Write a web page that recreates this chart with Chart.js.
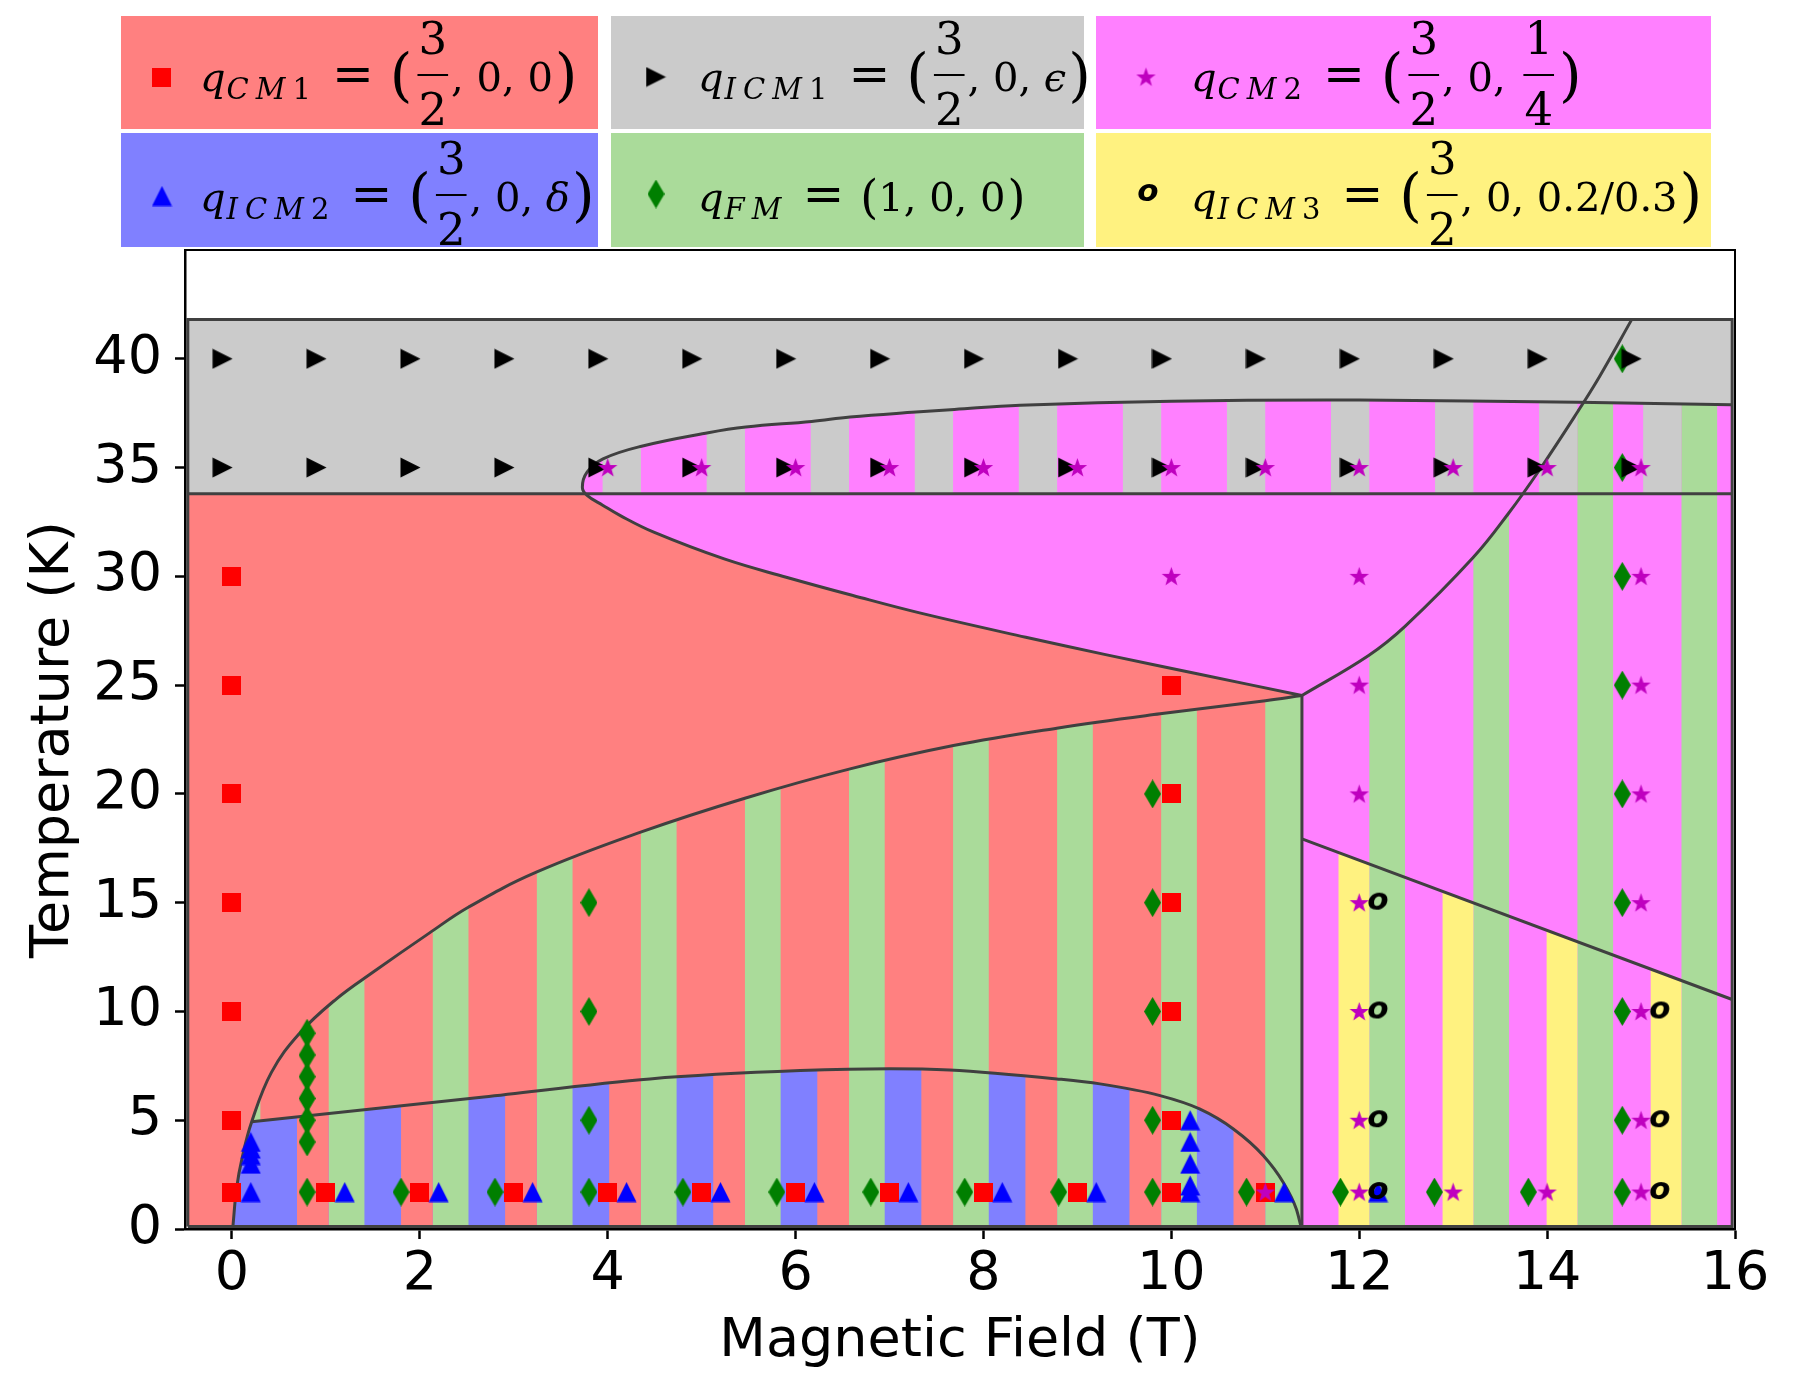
<!DOCTYPE html>
<html>
<head>
<meta charset="utf-8">
<script src="https://cdn.jsdelivr.net/npm/chart.js@4.4.1/dist/chart.umd.min.js"></script>
<style>
  html, body { margin: 0; padding: 0; background: #fff; }
  canvas { display: block; }
</style>
</head>
<body>
<canvas id="phase" width="1800" height="1400"></canvas>
<script>
// ---- axis ticks ----
const xTicks = [0, 2, 4, 6, 8, 10, 12, 14, 16];
const yTicks = [0, 5, 10, 15, 20, 25, 30, 35, 40];

// ---- phase boundaries: field (T) / temperature (K) ----
const noseField = [11.39, 10.3, 9.3, 8.45, 7.32, 6.61, 5.90, 5.24, 4.49, 4.13, 3.95, 3.78, 3.73,
                   3.78, 3.95, 4.36, 5.07, 5.47, 6.17, 6.58, 7.28, 7.69, 8.39, 10.0, 12.0, 14.33, 15.96];
const noseTemp  = [24.52, 25.5, 26.4, 27.2, 28.32, 29.12, 29.96, 30.8, 32.03, 32.8, 33.26, 33.72, 34.1,
                   34.79, 35.4, 35.98, 36.6, 36.86, 37.12, 37.32, 37.55, 37.67, 37.86, 38.05, 38.1, 38.0, 37.89];
const sqrtField = [0.01, 0.05, 0.11, 0.21, 0.42, 0.72, 1.11, 1.5, 2.1, 2.52, 3.24, 4.35, 5.46,
                   6.58, 7.68, 8.78, 9.88, 11.0, 11.39];
const sqrtTemp  = [0.12, 1.9, 3.3, 4.93, 7.2, 9.0, 10.57, 11.8, 13.6, 14.8, 16.4, 18.24, 19.8,
                   21.15, 22.22, 23.02, 23.68, 24.28, 24.52];
const domeField = [0.21, 2.68, 4.45, 6.05, 7.0, 7.64, 8.78, 9.24, 9.88, 10.30, 10.66, 10.98, 11.19, 11.33, 11.38];
const domeTemp  = [4.93, 6.07, 6.90, 7.28, 7.37, 7.31, 6.90, 6.67, 6.13, 5.52, 4.60, 3.37, 2.15, 0.92, 0.12];
const diagField = [11.39, 12.10, 12.49, 13.21, 13.59, 13.92, 14.33, 14.56, 14.90];
const diagTemp  = [24.52, 26.36, 27.71, 30.85, 32.9, 34.9, 37.6, 39.2, 41.8];
const slantField = [11.39, 15.97];
const slantTemp  = [17.93, 10.55];
const splitField = [11.39, 11.39];
const splitTemp  = [0.12, 24.52];
const bandLowField = [-0.47, 15.97];
const bandLowTemp  = [33.8, 33.8];
const frameField = [-0.47, -0.47, 15.97, 15.97, -0.47];
const frameTemp  = [0.12, 41.8, 41.8, 0.12, 0.12];

// ---- measured points ----
const cm1Field = [0, 0, 0, 0, 0, 0, 0, 1, 2, 3, 4, 5, 6, 7, 8, 9, 10, 10, 10, 10, 10, 10, 11];
const cm1Temp  = [1.7, 5, 10, 15, 20, 25, 30, 1.7, 1.7, 1.7, 1.7, 1.7, 1.7, 1.7, 1.7, 1.7, 1.7, 5, 10, 15, 20, 25, 1.7];
const icm1Field = [-0.1, 0.9, 1.9, 2.9, 3.9, 4.9, 5.9, 6.9, 7.9, 8.9, 9.9, 10.9, 11.9, 12.9, 13.9, 14.9,
                   -0.1, 0.9, 1.9, 2.9, 3.9, 4.9, 5.9, 6.9, 7.9, 8.9, 9.9, 10.9, 11.9, 12.9, 13.9, 14.9];
const icm1Temp  = [40, 40, 40, 40, 40, 40, 40, 40, 40, 40, 40, 40, 40, 40, 40, 40,
                   35, 35, 35, 35, 35, 35, 35, 35, 35, 35, 35, 35, 35, 35, 35, 35];
const cm2Field = [4, 5, 6, 7, 8, 9, 10, 11, 12, 13, 14, 15, 10, 12, 15, 12, 15, 12, 15, 12, 15, 12, 15, 12, 15,
                  11, 12, 13, 14, 15];
const cm2Temp  = [35, 35, 35, 35, 35, 35, 35, 35, 35, 35, 35, 35, 30, 30, 30, 25, 25, 20, 20, 15, 15, 10, 10, 5, 5,
                  1.7, 1.7, 1.7, 1.7, 1.7];
const icm2Field = [0.2, 1.2, 2.2, 3.2, 4.2, 5.2, 6.2, 7.2, 8.2, 9.2, 10.2, 11.2, 12.2,
                   0.2, 0.2, 0.2, 0.2, 10.2, 10.2, 10.2, 10.2];
const icm2Temp  = [1.7, 1.7, 1.7, 1.7, 1.7, 1.7, 1.7, 1.7, 1.7, 1.7, 1.7, 1.7, 1.7,
                   3.0, 3.4, 3.7, 4.0, 2, 3, 4, 5];
const fmField = [0.8, 0.8, 0.8, 0.8, 0.8, 0.8, 0.8, 1.8, 2.8, 3.8, 4.8, 5.8, 6.8, 7.8, 8.8, 9.8, 10.8, 11.8, 12.8, 13.8, 14.8,
                 3.8, 3.8, 3.8, 9.8, 9.8, 9.8, 9.8, 14.8, 14.8, 14.8, 14.8, 14.8, 14.8, 14.8, 14.8];
const fmTemp  = [1.7, 4, 5, 6, 7, 8, 9, 1.7, 1.7, 1.7, 1.7, 1.7, 1.7, 1.7, 1.7, 1.7, 1.7, 1.7, 1.7, 1.7, 1.7,
                 5, 10, 15, 5, 10, 15, 20, 5, 10, 15, 20, 25, 30, 35, 40];
const icm3Field = [12.2, 12.2, 12.2, 12.2, 15.2, 15.2, 15.2];
const icm3Temp  = [1.7, 5, 10, 15, 1.7, 5, 10];

// ---- colours ----
const C = {
  red: '#ff8080', gray: '#cbcbcb', magenta: '#ff80ff',
  blue: '#8080ff', green: '#aadb9a', yellow: '#fff280', line: '#404040'
};
// coexistence stripes: a pattern repeating along the field axis
const STRIPE_ORIGIN = 1.03;
const STRIPE_PERIOD = 1.1077;

function markerCanvas(w, h, draw) {
  const c = document.createElement('canvas');
  c.width = w; c.height = h;
  draw(c.getContext('2d'), w, h);
  return c;
}
const squareMark = markerCanvas(19, 19, (g, w, h) => { g.fillStyle = '#ff0000'; g.fillRect(0, 0, w, h); });
const triUpMark = markerCanvas(21, 21, (g, w, h) => {
  g.fillStyle = '#0000ff'; g.beginPath();
  g.moveTo(w / 2, 0.5); g.lineTo(w - 0.5, h - 0.5); g.lineTo(0.5, h - 0.5); g.closePath(); g.fill();
});
const triRightMark = markerCanvas(21, 21, (g, w, h) => {
  g.fillStyle = '#000'; g.beginPath();
  g.moveTo(0.5, 0.5); g.lineTo(w - 0.5, h / 2); g.lineTo(0.5, h - 0.5); g.closePath(); g.fill();
});
const diamondMark = markerCanvas(17, 29, (g, w, h) => {
  g.fillStyle = '#007f00'; g.beginPath();
  g.moveTo(w / 2, 0); g.lineTo(w, h / 2); g.lineTo(w / 2, h); g.lineTo(0, h / 2); g.closePath(); g.fill();
});
const starMark = markerCanvas(21, 21, (g, w, h) => {
  g.fillStyle = '#bf00bf'; g.beginPath();
  for (let i = 0; i < 10; i++) {
    const r = i % 2 ? 4.1 : 10.2;
    const a = -Math.PI / 2 + i * Math.PI / 5;
    g.lineTo(10.5 + r * Math.cos(a), 11.2 + r * Math.sin(a));
  }
  g.closePath(); g.fill();
});
const oMark = markerCanvas(26, 26, (g, w, h) => {
  g.fillStyle = '#000'; g.font = 'italic bold 31px "DejaVu Sans"';
  g.textAlign = 'center'; g.textBaseline = 'alphabetic';
  g.fillText('o', 13, 20);
});

const pts = (xs, ts) => xs.map((v, i) => ({ x: v, y: ts[i] }));

function curveSet(label, xs, ts, mode) {
  return {
    type: 'line', label, data: pts(xs, ts),
    borderColor: C.line, borderWidth: 3, pointRadius: 0, pointHoverRadius: 0, fill: false,
    tension: mode === 'straight' ? 0 : 0.4,
    cubicInterpolationMode: mode === 'monotone' ? 'monotone' : 'default',
    order: 20
  };
}
function markSet(label, xs, ts, img, order) {
  return {
    type: 'scatter', label, data: pts(xs, ts),
    pointStyle: img, pointRadius: 10, pointHoverRadius: 10, showLine: false, order
  };
}

function trace(ctx, points, start) {
  points.forEach((p, i) => {
    if (i === 0) { start ? ctx.moveTo(p.x, p.y) : ctx.lineTo(p.x, p.y); return; }
    const q = points[i - 1];
    if (q.cp2x === undefined || p.cp1x === undefined) ctx.lineTo(p.x, p.y);
    else ctx.bezierCurveTo(q.cp2x, q.cp2y, p.cp1x, p.cp1y, p.x, p.y);
  });
}

const phasePlugin = {
  id: 'phases',
  beforeDatasetsDraw(chart) {
    const { ctx, chartArea: area, scales: { x, y } } = chart;
    const px = v => x.getPixelForValue(v);
    const py = v => y.getPixelForValue(v);
    const curve = label => {
      const idx = chart.data.datasets.findIndex(d => d.label === label);
      const meta = chart.getDatasetMeta(idx);
      meta.dataset.updateControlPoints(area, 'x');
      return meta.data;
    };
    const nose = curve('nose'), sqrt = curve('sqrt'), dome = curve('dome'), diag = curve('diag');
    const XL = frameField[0], XR = frameField[2], T0 = frameTemp[0], TT = frameTemp[1];
    const TB = bandLowTemp[0], XV = splitField[0];
    const rect = (x0, t0, x1, t1) => () => ctx.rect(px(x0), py(t1), px(x1) - px(x0), py(t0) - py(t1));
    const band = rect(XL, TB, XR, TT);
    const below = rect(XL, T0, XR, TB);
    const noseIn = () => {
      trace(ctx, nose, true);
      ctx.lineTo(px(XR + 1), py(noseTemp[noseTemp.length - 1]));
      ctx.lineTo(px(XR + 1), py(noseTemp[0]));
    };
    const leftDiag = () => {
      ctx.moveTo(px(XV), py(-1));
      trace(ctx, diag, false);
      ctx.lineTo(px(diagField[diagField.length - 1]), py(50));
      ctx.lineTo(px(-1), py(50));
      ctx.lineTo(px(-1), py(-1));
    };
    const rightDiag = () => {
      trace(ctx, diag, true);
      ctx.lineTo(px(XR + 1), py(TT));
      ctx.lineTo(px(XR + 1), py(slantTemp[1]));
      ctx.lineTo(px(slantField[1]), py(slantTemp[1]));
      ctx.lineTo(px(slantField[0]), py(slantTemp[0]));
    };
    const lowRight = () => {
      ctx.moveTo(px(XV), py(T0));
      ctx.lineTo(px(slantField[0]), py(slantTemp[0]));
      ctx.lineTo(px(slantField[1]), py(slantTemp[1]));
      ctx.lineTo(px(XR), py(T0));
    };
    const underSqrt = () => { trace(ctx, sqrt, true); ctx.lineTo(px(XV), py(T0)); };
    const underDome = () => {
      trace(ctx, dome, true);
      ctx.lineTo(px(-1), py(T0));
      ctx.lineTo(px(-1), py(domeTemp[0]));
    };

    const region = (clips, fill, stripes) => {
      ctx.save();
      clips.forEach(c => { ctx.beginPath(); c(); ctx.closePath(); ctx.clip(); });
      if (fill) { ctx.fillStyle = fill; ctx.fillRect(area.left, area.top, area.width, area.height); }
      (stripes || []).forEach(([a, b, col, kMin]) => {
        ctx.fillStyle = col;
        for (let k = kMin; k <= 14; k++) {
          const g = STRIPE_ORIGIN + k * STRIPE_PERIOD;
          ctx.fillRect(px(g + a), area.top, px(g + b) - px(g + a), area.height);
        }
      });
      ctx.restore();
    };

    region([band], C.gray);
    region([band, noseIn], C.magenta, [[0.70, STRIPE_PERIOD, C.gray, -1]]);
    region([below], C.red);
    region([below, noseIn, leftDiag], C.magenta);
    region([below, rightDiag], C.magenta, [[0, 0.38, C.green, -1]]);
    region([band, noseIn, rightDiag], null, [[0, 0.38, C.green, -1]]);
    region([below, lowRight], C.magenta, [[0, 0.38, C.green, -1], [0.78, STRIPE_PERIOD, C.yellow, -1]]);
    region([below, underSqrt], C.red, [[0, 0.38, C.green, -1]]);
    region([below, underSqrt, underDome], C.blue, [[0, 0.38, C.green, 0], [0.77, STRIPE_PERIOD, C.red, -1]]);
  },
  afterDraw(chart) {
    const { ctx, chartArea: a } = chart;
    ctx.save();
    ctx.strokeStyle = '#000';
    ctx.lineWidth = 2;
    ctx.beginPath();
    ctx.moveTo(a.left, a.top); ctx.lineTo(a.right, a.top); ctx.lineTo(a.right, a.bottom);
    ctx.stroke();
    legendEntries.forEach(e => {
      ctx.fillStyle = e.fill;
      ctx.fillRect(e.box[0], e.box[1], e.box[2] - e.box[0], e.box[3] - e.box[1]);
      ctx.drawImage(e.mark, e.mx - e.mark.width / 2, e.my - e.mark.height / 2);
      ctx.fillStyle = '#000';
      drawMath(ctx, e.tx, e.base, e.parts);
    });
    ctx.restore();
  }
};

const legendEntries = [
  { box: [121, 16, 598, 129], fill: C.red, mark: squareMark, mx: 161, my: 77, tx: 200, base: 91,
    parts: [['q'], ['sub', 'CM1'], ['eq'], ['lp'], ['frac', '3', '2'], ['t', ', 0, 0'], ['rp']] },
  { box: [611, 16, 1084, 129], fill: C.gray, mark: triRightMark, mx: 656, my: 77, tx: 698, base: 91,
    parts: [['q'], ['sub', 'ICM1'], ['eq'], ['lp'], ['frac', '3', '2'], ['t', ', 0, '], ['it', 'ϵ'], ['rp']] },
  { box: [1096, 16, 1711, 129], fill: C.magenta, mark: starMark, mx: 1146, my: 77, tx: 1191, base: 91,
    parts: [['q'], ['sub', 'CM2'], ['eq'], ['lp'], ['frac', '3', '2'], ['t', ', 0, '], ['frac', '1', '4'], ['rp']] },
  { box: [121, 133, 598, 247], fill: C.blue, mark: triUpMark, mx: 162, my: 196, tx: 200, base: 211,
    parts: [['q'], ['sub', 'ICM2'], ['eq'], ['lp'], ['frac', '3', '2'], ['t', ', 0, '], ['it', 'δ'], ['rp']] },
  { box: [611, 133, 1084, 247], fill: C.green, mark: diamondMark, mx: 656, my: 194, tx: 698, base: 211,
    parts: [['q'], ['sub', 'FM'], ['eq'], ['lps'], ['t', '1, 0, 0'], ['rps']] },
  { box: [1096, 133, 1711, 247], fill: C.yellow, mark: oMark, mx: 1148, my: 194, tx: 1191, base: 211,
    parts: [['q'], ['sub', 'ICM3'], ['eq'], ['lp'], ['frac', '3', '2'], ['t', ', 0, 0.2/0.3'], ['rp']] }
];

function drawMath(ctx, x, base, parts) {
  const bar = base - 16;
  let cx = x;
  ctx.textAlign = 'left';
  ctx.textBaseline = 'alphabetic';
  const put = (s, font, dy) => { ctx.font = font; ctx.fillText(s, cx, base + (dy || 0)); cx += ctx.measureText(s).width; };
  parts.forEach(([kind, a, b]) => {
    if (kind === 'q') put('q', 'italic 40px "DejaVu Serif"');
    else if (kind === 'sub') {
      cx += 1;
      for (const ch of a) { put(ch, (/[A-Z]/.test(ch) ? 'italic ' : '') + '29px "DejaVu Serif"', 8); cx += 7; }
    }
    else if (kind === 'eq') { cx += 14; put('=', '50px "DejaVu Serif"'); cx += 16; }
    else if (kind === 'lp') put('(', '58px "DejaVu Serif"', 4);
    else if (kind === 'rp') { cx += 2; put(')', '58px "DejaVu Serif"', 4); }
    else if (kind === 'lps') put('(', '46px "DejaVu Serif"', 2);
    else if (kind === 'rps') { cx += 2; put(')', '46px "DejaVu Serif"', 2); }
    else if (kind === 'frac') {
      ctx.font = '45px "DejaVu Serif"';
      const w = Math.max(ctx.measureText(a).width, ctx.measureText(b).width) + 2;
      cx += 5;
      ctx.textAlign = 'center';
      ctx.fillText(a, cx + w / 2, bar - 21);
      ctx.fillText(b, cx + w / 2, bar + 50);
      ctx.textAlign = 'left';
      ctx.fillRect(cx, bar - 1, w, 2);
      cx += w + 3;
    }
    else if (kind === 't') put(a, '40px "DejaVu Serif"');
    else if (kind === 'it') put(a, 'italic 40px "DejaVu Serif"');
  });
}

Chart.defaults.font.family = '"DejaVu Sans"';
Chart.defaults.color = '#000';

new Chart(document.getElementById('phase'), {
  type: 'scatter',
  data: {
    datasets: [
      markSet('qICM3', icm3Field, icm3Temp, oMark, 0),
      markSet('qCM2', cm2Field, cm2Temp, starMark, 1),
      markSet('qICM1', icm1Field, icm1Temp, triRightMark, 2),
      markSet('qICM2', icm2Field, icm2Temp, triUpMark, 3),
      markSet('qCM1', cm1Field, cm1Temp, squareMark, 4),
      markSet('qFM', fmField, fmTemp, diamondMark, 5),
      curveSet('nose', noseField, noseTemp, 'spline'),
      curveSet('sqrt', sqrtField, sqrtTemp, 'spline'),
      curveSet('dome', domeField, domeTemp, 'monotone'),
      curveSet('diag', diagField, diagTemp, 'spline'),
      curveSet('slant', slantField, slantTemp, 'straight'),
      curveSet('split', splitField, splitTemp, 'straight'),
      curveSet('bandLow', bandLowField, bandLowTemp, 'straight'),
      curveSet('frame', frameField, frameTemp, 'straight')
    ]
  },
  options: {
    responsive: false,
    devicePixelRatio: 1,
    animation: false,
    events: [],
    layout: { padding: { top: 250, right: 65, left: 0, bottom: 0 } },
    plugins: { legend: { display: false }, tooltip: { enabled: false } },
    scales: {
      x: {
        type: 'linear', min: -0.5, max: 16,
        afterBuildTicks: s => { s.ticks = xTicks.map(v => ({ value: v })); },
        afterFit: s => { s.height = 171; },
        ticks: { font: { size: 54 }, color: '#000', padding: 4, maxRotation: 0 },
        grid: { drawOnChartArea: false, drawTicks: true, tickLength: 10, tickWidth: 2.5, tickColor: '#000' },
        border: { display: true, color: '#000', width: 2.5 },
        title: { display: true, text: 'Magnetic Field (T)', font: { size: 54 }, color: '#000', padding: { top: 0, bottom: 26 } }
      },
      y: {
        type: 'linear', min: 0, max: 45,
        afterBuildTicks: s => { s.ticks = yTicks.map(v => ({ value: v })); },
        afterFit: s => { s.width = 185; },
        ticks: { font: { size: 54 }, color: '#000', padding: 13 },
        grid: { drawOnChartArea: false, drawTicks: true, tickLength: 10, tickWidth: 2.5, tickColor: '#000' },
        border: { display: true, color: '#000', width: 2.5 },
        title: { display: true, text: 'Temperature (K)', font: { size: 54 }, color: '#000', padding: { top: 22, bottom: 0 } }
      }
    }
  },
  plugins: [phasePlugin]
});
</script>
</body>
</html>
